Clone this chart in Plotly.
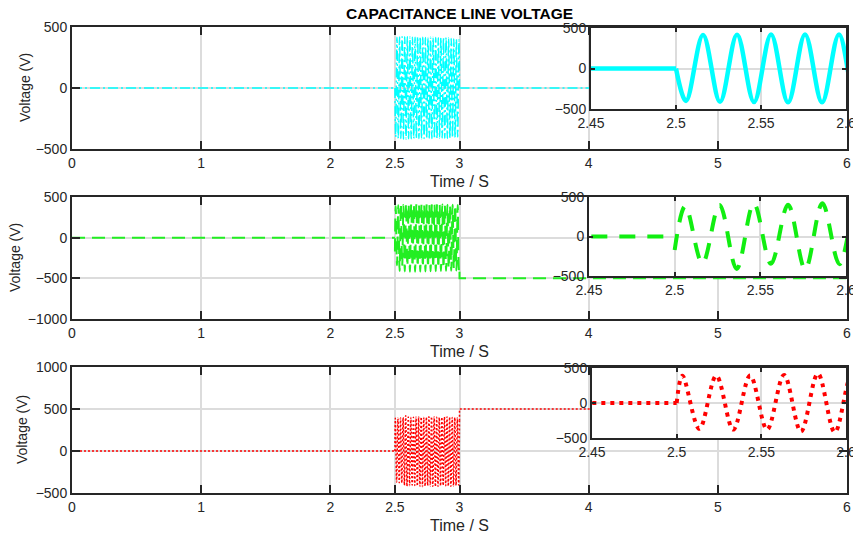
import plotly.graph_objects as go

W, H = 853, 533
FONT = "Liberation Sans, Arial, sans-serif"
INK = "#262626"
GRID = "#dcdcdc"

# ---- time axis -------------------------------------------------------------
time_ticks = [0, 1, 2, 2.5, 3, 4, 5, 6]
inset_ticks = [2.45, 2.5, 2.55, 2.6]
inset_range = [2.45, 2.6]
t_fault = 2.5          # s, oscillation starts
t_clear = 3.0          # s, oscillation ends
t_end = 6.0            # s
half_period = 0.01     # s, 50 Hz supply -> one extremum every 10 ms

# ---- per-phase levels (V) --------------------------------------------------
pre_level = [0, 0, 0]
fault_start_v = [0, -170, 0]
first_extremum_t = [2.5059, 2.5062, 2.5034]
first_is_peak = [False, True, True]
clear_v = [0, -420, 360]
post_level = [0, -500, 500]

# ---- successive peaks / troughs during the 2.5 s - 3.0 s window (V) -------
cyan_peaks = [415, 418, 420, 421, 420, 418, 416, 417, 419, 418, 415, 413, 414,
              416, 417, 414, 411, 410, 412, 413, 410, 406, 402, 398, 395]
cyan_troughs = [-400, -412, -414, -418, -418, -416, -415, -413, -412, -414, -416,
                -413, -410, -411, -414, -415, -412, -410, -409, -411, -413, -410,
                -406, -404, -402]

green_peaks = [385, 400, 418, 402, 420, 405, 418, 404, 416, 406, 415, 403, 414,
               405, 412, 404, 410, 402, 408, 401, 406, 400, 404, 399, 402]
green_troughs = [-340, -410, -345, -415, -350, -418, -355, -420, -360, -418, -362,
                 -416, -365, -414, -370, -412, -372, -410, -375, -408, -378, -406,
                 -380, -404, -400]

red_peaks = [389, 390, 392, 400, 420, 405, 398, 402, 406, 408, 404, 400, 403,
             407, 408, 405, 401, 399, 402, 405, 406, 403, 400, 398, 396]
red_troughs = [-369, -379, -380, -408, -418, -412, -405, -410, -416, -420, -424,
               -418, -412, -415, -420, -423, -419, -414, -410, -413, -417, -420,
               -415, -410, -405]

peaks = [cyan_peaks, green_peaks, red_peaks]
troughs = [cyan_troughs, green_troughs, red_troughs]

# ---- styles ----------------------------------------------------------------
main_styles = [
    dict(color="#00ffff", width=1.5, dash="10px,3px,2px,3px"),
    dict(color="#22ee22", width=2, dash="13px,7px"),
    dict(color="#ff0000", width=1.5, dash="2px,2px"),
]
inset_styles = [
    dict(color="#00ffff", width=4.5),
    dict(color="#11ee11", width=4, dash="16px,12px"),
    dict(color="#ff0000", width=4, dash="4px,5px"),
]

main_y_ranges = [[-500, 500], [-1000, 500], [-500, 1000]]
main_y_ticks = [[-500, 0, 500], [-1000, -500, 0, 500], [-500, 0, 500, 1000]]

# subplot boxes in pixels: (left, right, top, bottom)
main_boxes = [(72, 847, 27, 149), (72, 847, 197, 319), (72, 847, 367, 493)]
inset_boxes = [(591, 846, 28, 109), (589, 846, 197, 276), (592, 846, 368, 438)]


def xdom(l, r):
    return [l / W, r / W]


def ydom(t, b):
    return [1 - b / H, 1 - t / H]


def interleave(first, second):
    out = []
    for a, b in zip(first, second):
        out += [a, b]
    return out


fig = go.Figure()

for i in range(3):
    ext = interleave(peaks[i], troughs[i]) if first_is_peak[i] else interleave(troughs[i], peaks[i])
    ext_t = [first_extremum_t[i] + k * half_period for k in range(len(ext))]

    pre_x, pre_y = [0, t_fault], [pre_level[i], pre_level[i]]
    osc_x = [t_fault] + ext_t + [t_clear]
    osc_y = [fault_start_v[i]] + ext + [clear_v[i]]
    post_x = [t_clear, t_clear, t_end]
    post_y = [clear_v[i], post_level[i], post_level[i]]

    for axn, style in ((i + 1, main_styles[i]), (i + 4, inset_styles[i])):
        xa = "x" if axn == 1 else f"x{axn}"
        ya = "y" if axn == 1 else f"y{axn}"
        fig.add_trace(go.Scatter(x=pre_x, y=pre_y, mode="lines", line=style,
                                 xaxis=xa, yaxis=ya, hoverinfo="skip"))
        fig.add_trace(go.Scatter(x=osc_x, y=osc_y, mode="lines",
                                 line=dict(style, shape="spline", smoothing=1),
                                 xaxis=xa, yaxis=ya, hoverinfo="skip"))
        fig.add_trace(go.Scatter(x=post_x, y=post_y, mode="lines", line=style,
                                 xaxis=xa, yaxis=ya, hoverinfo="skip"))

frame = dict(showline=True, linecolor=INK, linewidth=2, mirror="ticks",
             ticks="inside", tickcolor=INK, zeroline=False, showgrid=True,
             gridcolor=GRID, ticklabeloverflow="allow",
             tickfont=dict(family=FONT, size=14, color=INK))

layout = dict(
    width=W, height=H, autosize=False, template="none",
    margin=dict(l=0, r=0, t=0, b=0),
    paper_bgcolor="white", plot_bgcolor="white",
    showlegend=False,
    font=dict(family=FONT, color=INK),
)

for i in range(3):
    l, r, t, b = main_boxes[i]
    n = i + 1
    xk = "xaxis" if n == 1 else f"xaxis{n}"
    yk = "yaxis" if n == 1 else f"yaxis{n}"
    xa = "x" if n == 1 else f"x{n}"
    ya = "y" if n == 1 else f"y{n}"
    layout[xk] = dict(frame, domain=xdom(l, r), anchor=ya, range=[0, 6],
                      tickvals=time_ticks, ticklen=8, tickwidth=2, gridwidth=2)
    layout[yk] = dict(frame, domain=ydom(t, b), anchor=xa, range=main_y_ranges[i],
                      tickvals=main_y_ticks[i], ticklen=8, tickwidth=2, gridwidth=1.5)

for i in range(3):
    l, r, t, b = inset_boxes[i]
    n = i + 4
    layout[f"xaxis{n}"] = dict(frame, domain=xdom(l, r), anchor=f"y{n}", range=inset_range,
                               tickvals=inset_ticks, ticklen=4, tickwidth=2, gridwidth=2)
    layout[f"yaxis{n}"] = dict(frame, domain=ydom(t, b), anchor=f"x{n}", range=[-500, 500],
                               tickvals=[-500, 0, 500], ticklen=4, tickwidth=2, gridwidth=1.5)

annotations = [
    dict(text="<b>CAPACITANCE LINE VOLTAGE</b>", x=459.5 / W, y=1 - 13.5 / H,
         xref="paper", yref="paper", xanchor="center", yanchor="middle",
         showarrow=False, font=dict(family=FONT, size=15.5, color="black")),
]
ylabel_x = [25, 15, 22]
for i in range(3):
    l, r, t, b = main_boxes[i]
    annotations.append(dict(text="Time / S", x=(l + r) / 2 / W, y=1 - (b + 32.5) / H,
                            xref="paper", yref="paper", xanchor="center", yanchor="middle",
                            showarrow=False, font=dict(family=FONT, size=16, color=INK)))
    annotations.append(dict(text="Voltage (V)", x=ylabel_x[i] / W, y=1 - (t + b) / 2 / H,
                            xref="paper", yref="paper", xanchor="center", yanchor="middle",
                            textangle=-90, showarrow=False,
                            font=dict(family=FONT, size=14, color=INK)))
layout["annotations"] = annotations

fig.update_layout(**layout)
fig.write_html("out.html")
